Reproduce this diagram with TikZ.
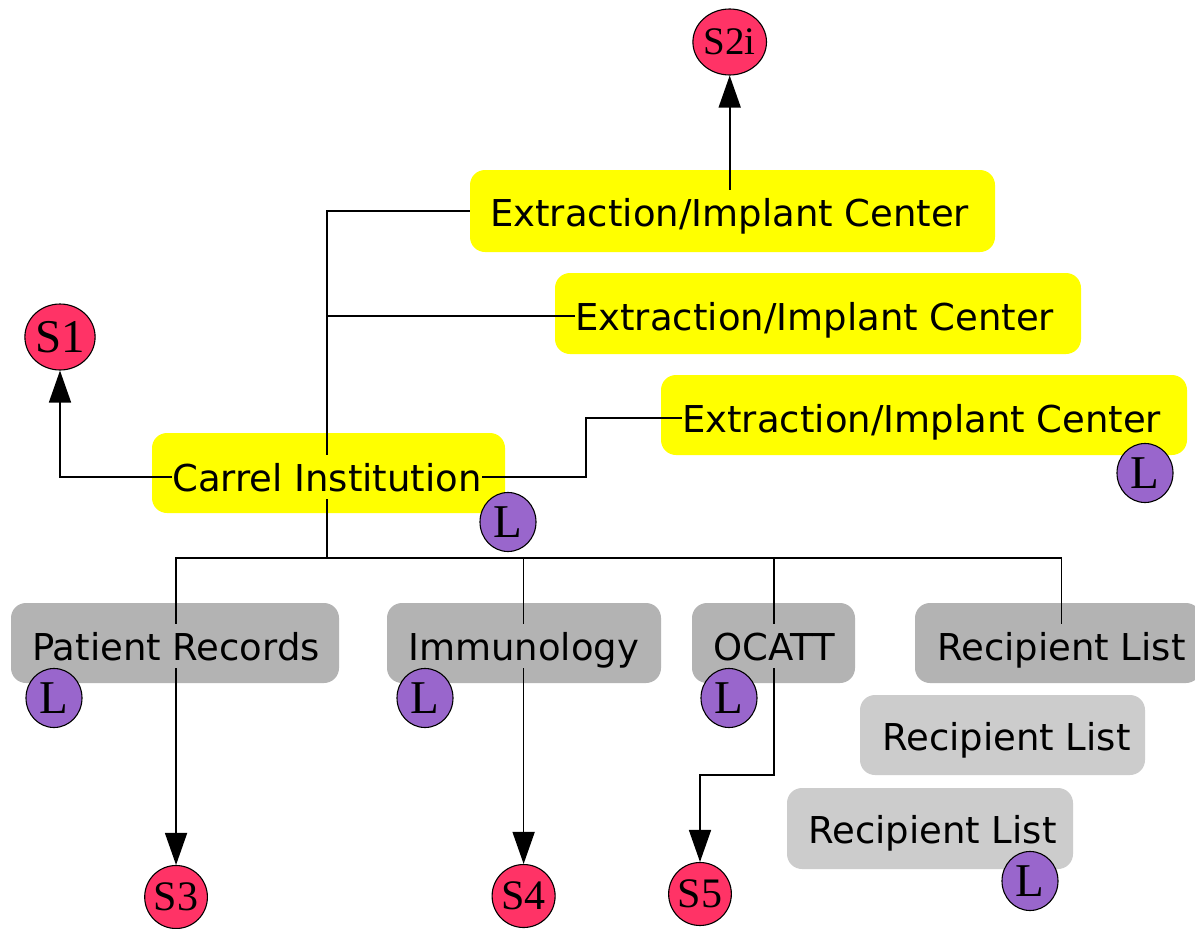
\documentclass[tikz,border=0pt]{standalone}
\usepackage{fontspec}
\setmainfont{DejaVu Sans}
\newfontfamily\circfont{Liberation Serif}
\usetikzlibrary{arrows.meta,shapes.geometric,calc}

\definecolor{boxyellow}{RGB}{255,255,0}
\definecolor{boxgrey}{RGB}{179,179,179}
\definecolor{boxlight}{RGB}{204,204,204}
\definecolor{sred}{RGB}{255,51,102}
\definecolor{lpurple}{RGB}{153,102,204}

\pgfdeclarelayer{boxes}
\pgfdeclarelayer{wires}
\pgfsetlayers{boxes,wires,main}

\tikzset{
  panel/.style={rectangle, rounded corners=15pt, inner sep=0pt, draw=none},
  ypanel/.style={panel, fill=boxyellow},
  gpanel/.style={panel, fill=boxgrey},
  lpanel/.style={panel, fill=boxlight},
  boxtext/.style={anchor=base west, inner xsep=0pt, inner ysep=2pt,
    text height=34pt, text depth=6pt, font=\fontsize{37pt}{40pt}\selectfont},
  ytext/.style={boxtext, fill=boxyellow},
  gtext/.style={boxtext, fill=boxgrey},
  ltext/.style={boxtext, fill=boxlight},
  site/.style={ellipse, inner sep=0pt, minimum width=64pt, minimum height=66pt,
    fill=sred, draw=black, line width=1.1pt},
  link/.style={ellipse, inner sep=0pt, minimum width=56pt, minimum height=59pt,
    fill=lpurple, draw=black, line width=1.1pt,
    font=\circfont\fontsize{47pt}{47pt}\selectfont},
  conn/.style={line width=1.6pt, draw=black},
  arr/.style={conn, -{Triangle[length=32pt,width=22pt]}}
}

\begin{document}
\begin{tikzpicture}[x=1pt, y=-1pt]
  \useasboundingbox (0,0) rectangle (1195,929);

  % white sheet and rounded panels, beneath the wiring
  \begin{pgfonlayer}{boxes}
    \fill[white] (0,0) rectangle (1195,929);
    \node[ypanel, minimum width=525pt, minimum height=82pt] (eic1box) at (732.5,211) {};
    \node[ypanel, minimum width=526pt, minimum height=81pt] (eic2box) at (818,313.5) {};
    \node[ypanel, minimum width=526pt, minimum height=80pt] (eic3box) at (924,415) {};
    \node[ypanel, minimum width=353pt, minimum height=80pt] (carrelbox) at (328.5,473) {};
    \node[gpanel, minimum width=328pt, minimum height=80pt] (prbox) at (175,643) {};
    \node[gpanel, minimum width=274pt, minimum height=80pt] (immbox) at (524,643) {};
    \node[gpanel, minimum width=163pt, minimum height=80pt] (ocattbox) at (773.5,643) {};
    \node[gpanel, minimum width=286pt, minimum height=80pt] (rl1box) at (1058,643) {};
    \node[lpanel, minimum width=285pt, minimum height=80pt] (rl2box) at (1002.5,735) {};
    \node[lpanel, minimum width=286pt, minimum height=81pt] (rl3box) at (930,828.5) {};
  \end{pgfonlayer}

  % panel captions
  \node[ytext] (eic1) at (490,226) {Extraction/Implant Center};
  \node[ytext] (eic2) at (575,330) {Extraction/Implant Center};
  \node[ytext] (eic3) at (682,432) {Extraction/Implant Center};
  \node[ytext] (carrel) at (172,491) {Carrel Institution};
  \node[gtext] (pr) at (32,660) {Patient Records};
  \node[gtext] (imm) at (408,660) {Immunology};
  \node[gtext] (ocatt) at (713,660) {OCATT};
  \node[gtext] (rl1) at (937,660) {Recipient List};
  \node[ltext] (rl2) at (882,750) {Recipient List};
  \node[ltext] (rl3) at (808,843) {Recipient List};

  % site markers
  \node[site, font=\circfont\fontsize{39pt}{39pt}\selectfont] (s2i) at (eic1.north |- 0,42) {S2i};
  \node[site, font=\circfont\fontsize{47pt}{47pt}\selectfont] (s1) at (60,337) {S1};
  \node[site, minimum width=62pt, minimum height=63pt, font=\circfont\fontsize{42pt}{42pt}\selectfont] (s3) at (pr.south |- 0,897) {S3};
  \node[site, minimum width=63pt, minimum height=63pt, font=\circfont\fontsize{42pt}{42pt}\selectfont] (s4) at (imm.south |- 0,896) {S4};
  \node[site, minimum width=62pt, minimum height=63pt, font=\circfont\fontsize{42pt}{42pt}\selectfont] (s5) at (700,894) {S5};

  % link markers
  \node[link] (lcarrel) at (508,522) {L};
  \node[link] (leic3) at (1145,473) {L};
  \node[link] (lpr) at (54,698) {L};
  \node[link] (limm) at (425,698) {L};
  \node[link] (locatt) at (729,698) {L};
  \node[link] (lrl3) at (1030,881) {L};

  \coordinate (bus) at (carrel.south |- 0,558);

  \begin{pgfonlayer}{wires}
    % upward tree
    \draw[conn] (carrel.north) |- (eic1box.west);
    \draw[conn] (carrel.north) |- (eic2.west);
    \draw[conn] (carrel.east) -| ($(carrel.east)!0.52!(eic3.west)$) |- (eic3.west);
    \draw[arr] (carrel.west) -| (s1.south);
    \draw[arr] (eic1.north) -- (s2i.south);
    % downward tree
    \draw[conn] (carrel.south) -- (bus);
    \draw[conn] (bus) -| (pr.north);
    \draw[conn] (bus) -| (imm.north);
    \draw[conn] (bus) -| (ocatt.north);
    \draw[conn] (bus) -| (rl1.north);
    \draw[arr] (pr.south) -- (s3.north);
    \draw[arr] (imm.south) -- (s4.north);
    \draw[arr] (ocatt.south) -- ++(0,107) -| (s5.north);
  \end{pgfonlayer}
\end{tikzpicture}
\end{document}
